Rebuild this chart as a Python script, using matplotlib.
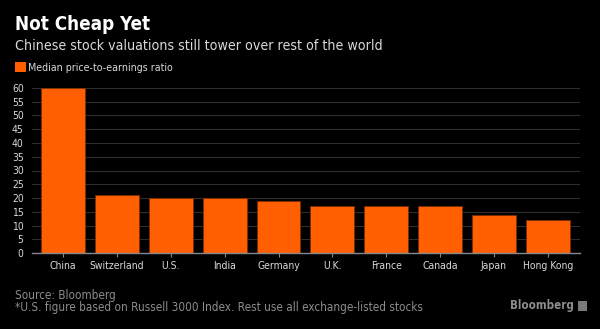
import matplotlib.pyplot as plt
from matplotlib.patches import Rectangle

countries = ["China", "Switzerland", "U.S.", "India", "Germany",
             "U.K.", "France", "Canada", "Japan", "Hong Kong"]
pe_ratio = [60, 21, 20, 20, 19, 17, 17, 17, 14, 12]
y_ticks = list(range(0, 61, 5))

plt.rcParams["font.family"] = ["DejaVu Sans"]
plt.rcParams["font.stretch"] = "condensed"

bg = "#000000"
orange = "#ff5f00"
grid_col = "#2e2e2e"
text_col = "#d9d9d9"
foot_col = "#8c8c8c"

fig = plt.figure(figsize=(6, 3.29), dpi=100, facecolor=bg)
ax = fig.add_axes([32 / 600, 76 / 329, 548 / 600, 165 / 329])
ax.set_facecolor(bg)

ax.bar(range(len(countries)), pe_ratio, width=0.815, color=orange,
       edgecolor="#7a2d00", linewidth=0.6, zorder=3)

ax.set_xlim(-0.58, 9.6)
ax.set_ylim(0, 60)
ax.set_yticks(y_ticks)
ax.set_xticks(range(len(countries)))
ax.set_xticklabels(countries)
ax.yaxis.grid(True, color=grid_col, linewidth=0.8, zorder=0)
for s in ["top", "right", "left"]:
    ax.spines[s].set_visible(False)
ax.spines["bottom"].set_color("#888888")
ax.spines["bottom"].set_linewidth(1.0)
ax.spines["bottom"].set_zorder(4)
ax.tick_params(axis="y", length=0, pad=6, labelsize=7.5)
ax.tick_params(axis="x", length=3, width=0.8, color="#888888", pad=3,
               labelsize=7.5)
for lbl in ax.get_xticklabels() + ax.get_yticklabels():
    lbl.set_color(text_col)

# header
fig.text(15 / 600, 1 - 25 / 329, "Not Cheap Yet", color="white",
         fontsize=13.5, fontweight="bold", va="center", ha="left")
fig.text(15 / 600, 1 - 46 / 329,
         "Chinese stock valuations still tower over rest of the world",
         color=text_col, fontsize=10.2, va="center", ha="left")
fig.patches.append(Rectangle((15 / 600, 1 - 72 / 329), 11 / 600, 10 / 329,
                             transform=fig.transFigure, facecolor=orange,
                             edgecolor="none"))
fig.text(28 / 600, 1 - 68 / 329, "Median price-to-earnings ratio",
         color=text_col, fontsize=7.7, va="center", ha="left")

# footer
fig.text(15 / 600, 1 - 295 / 329, "Source: Bloomberg", color=foot_col,
         fontsize=8.4, va="center", ha="left")
fig.text(15 / 600, 1 - 307 / 329,
         "*U.S. figure based on Russell 3000 Index. Rest use all exchange-listed stocks",
         color=foot_col, fontsize=8.4, va="center", ha="left")
fig.text(574 / 600, 1 - 306 / 329, "Bloomberg", color=foot_col,
         fontsize=8.3, fontweight="bold", va="center", ha="right")
fig.patches.append(Rectangle((578 / 600, 1 - 311 / 329), 9 / 600, 10 / 329,
                             transform=fig.transFigure, facecolor="#7a7a7a",
                             edgecolor="none"))

fig.savefig("out.png", dpi=100, facecolor=bg)
